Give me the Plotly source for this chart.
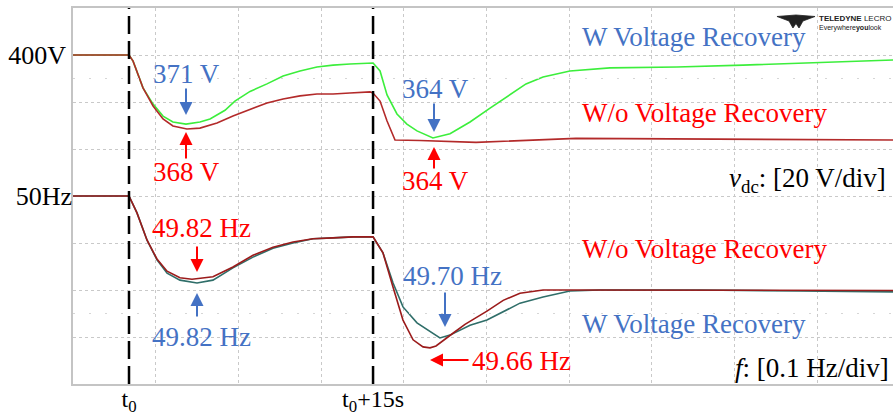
import plotly.graph_objects as go

# ---------------- data ----------------
# DC-link voltage, with voltage recovery (green)
t_vdc_w = [-3.44, 0.0, 0.25, 0.86, 1.48, 2.09, 2.70, 3.50, 4.36, 4.98, 5.90, 6.51, 7.44, 8.48,
           9.47, 10.51, 11.55, 12.54, 13.58, 14.63, 15.0, 15.43, 15.86, 16.47, 17.08, 17.70,
           18.68, 19.73, 20.96, 22.19, 23.46, 24.40, 25.45, 27.10, 29.56, 33.68, 37.74,
           41.86, 46.96]
vdc_w = [400.0, 400.0, 397.4, 386.0, 379.1, 374.0, 371.5, 370.6, 371.5, 372.8, 376.5, 380.4,
         384.5, 387.7, 391.1, 393.2, 394.9, 395.7, 396.2, 396.6, 396.6, 393.2, 383.0, 374.9,
         370.6, 367.7, 364.7, 366.5, 371.5, 377.4, 383.4, 387.7, 390.6, 393.2, 394.5, 394.9,
         395.7, 396.6, 397.9]

# DC-link voltage, without voltage recovery (dark red)
t_vdc_wo = [-3.44, 0.0, 0.25, 0.86, 1.48, 2.09, 2.70, 3.56, 4.36, 5.41, 6.39, 7.44, 8.48,
            9.47, 10.51, 11.55, 12.54, 13.58, 14.82, 15.0, 15.43, 15.86, 16.35, 17.88,
            21.33, 27.47, 35.10, 46.96]
vdc_wo = [400.0, 400.0, 397.4, 386.0, 378.3, 372.8, 369.8, 368.5, 368.9, 371.1, 374.0, 376.8,
          379.6, 381.3, 382.6, 383.4, 383.4, 383.8, 384.3, 383.8, 380.4, 371.9, 363.8, 363.6,
          362.8, 364.5, 364.2, 363.8]

# Frequency, with voltage recovery (teal)
t_f_w = [-3.44, 0.0, 0.49, 1.11, 1.72, 2.34, 3.13, 4.18, 5.16, 6.39, 7.62, 8.85, 10.08, 11.31,
         12.54, 13.77, 15.0, 15.61, 16.23, 16.84, 17.70, 18.68, 19.11, 19.73, 20.96, 22.0,
         22.99, 24.03, 25.45, 27.10, 28.95, 35.10, 41.24, 46.96]
f_w = [50.0, 50.0, 49.964, 49.906, 49.864, 49.836, 49.821, 49.815, 49.821, 49.847, 49.870,
       49.889, 49.900, 49.909, 49.911, 49.913, 49.913, 49.879, 49.815, 49.764, 49.730, 49.708,
       49.698, 49.704, 49.725, 49.736, 49.753, 49.772, 49.785, 49.798, 49.800, 49.800, 49.798,
       49.796]

# Frequency, without voltage recovery (dark red)
t_f_wo = [-3.44, 0.0, 0.49, 1.11, 1.72, 2.34, 3.13, 3.87, 5.16, 6.39, 7.62, 8.85, 10.08, 11.31,
          12.54, 13.77, 15.0, 15.61, 16.23, 16.84, 17.46, 18.07, 18.50, 18.87, 19.91, 20.65,
          22.0, 23.0, 24.03, 25.45, 27.10, 35.10, 41.24, 46.96]
f_wo = [50.0, 50.0, 49.964, 49.906, 49.866, 49.840, 49.826, 49.823, 49.828, 49.849, 49.874,
        49.891, 49.902, 49.909, 49.911, 49.913, 49.913, 49.879, 49.806, 49.736, 49.694, 49.679,
        49.677, 49.681, 49.708, 49.727, 49.755, 49.778, 49.793, 49.800, 49.800, 49.800, 49.799,
        49.799]

event_times = [0.0, 15.0]
event_labels = ["t<sub>0</sub>", "t<sub>0</sub>+15s"]

# ---------------- styling ----------------
SERIF = "Liberation Serif, Times New Roman, serif"
BLUE = "#4472C4"
RED = "#FF0000"
GRID = "#c9c9c9"
W, H = 893, 417
L, R, T, B = 73, 893, 8, 384   # plot area in pixels


def P(x, y):
    """pixel -> paper coordinates"""
    return (x - L) / (R - L), (B - y) / (B - T)


fig = go.Figure()
fig.add_trace(go.Scatter(x=t_f_w, y=f_w, yaxis="y2", mode="lines",
                         line=dict(color="#2f6e69", width=1.6), showlegend=False))
fig.add_trace(go.Scatter(x=t_f_wo, y=f_wo, yaxis="y2", mode="lines",
                         line=dict(color="#9b1b1b", width=1.6), showlegend=False))
fig.add_trace(go.Scatter(x=t_vdc_w, y=vdc_w, mode="lines",
                         line=dict(color="#3cee3c", width=1.6), showlegend=False))
fig.add_trace(go.Scatter(x=t_vdc_wo, y=vdc_wo, mode="lines",
                         line=dict(color="#b32a2a", width=1.6), showlegend=False))

x0 = (L - 129) / 16.27
x1 = (R - 129) / 16.27
div_t = 82.7 / 16.27

fig.update_layout(
    width=W, height=H, autosize=False,
    margin=dict(l=L, r=W - R, t=T, b=H - B, autoexpand=False),
    paper_bgcolor="white", plot_bgcolor="white",
    xaxis=dict(range=[x0, x1], tickmode="array", tickvals=event_times, ticktext=event_labels,
               showgrid=False, zeroline=False, ticks="", automargin=False,
               ticklabelstandoff=-8,
               tickfont=dict(family=SERIF, size=24, color="black"),
               showline=True, linecolor="#c4c4c4", linewidth=1.5, mirror=True,
               minor=dict(tick0=x0, dtick=div_t, showgrid=True, gridcolor=GRID,
                          griddash="dot", gridwidth=1, ticks="")),
    yaxis=dict(range=[260, 420], tickmode="array", tickvals=[400], ticktext=["400V"],
               showgrid=False, zeroline=False, ticks="", automargin=False,
               tickfont=dict(family=SERIF, size=26, color="black"),
               showline=True, linecolor="#c4c4c4", linewidth=1.5,
               minor=dict(tick0=260, dtick=20, showgrid=True, gridcolor=GRID,
                          griddash="dot", gridwidth=1, ticks="")),
    yaxis2=dict(range=[49.6, 50.4], overlaying="y", side="left", tickmode="array",
                tickvals=[50], ticktext=["50Hz"], showgrid=False, zeroline=False, ticks="",
                automargin=False,
                tickfont=dict(family=SERIF, size=26, color="black")),
)

# event markers (dashed vertical lines)
for te in event_times:
    fig.add_shape(type="line", xref="x", yref="paper", x0=te, x1=te, y0=0, y1=1,
                  line=dict(color="black", width=2.5, dash="18px,7px"))

# faint centre dotted lines
fig.add_shape(type="line", xref="paper", yref="y", x0=0, x1=1, y0=390, y1=390,
              line=dict(color="#d6d6d6", width=1, dash="2px,14px"))
fig.add_shape(type="line", xref="paper", yref="y2", x0=0, x1=1, y0=49.75, y1=49.75,
              line=dict(color="#d6d6d6", width=1, dash="2px,14px"))

# text labels (pixel centres)
texts = [
    ("371 V", 186, 74, BLUE, "center"),
    ("368 V", 186, 172, RED, "center"),
    ("364 V", 435, 89, BLUE, "center"),
    ("364 V", 435, 181, RED, "center"),
    ("W Voltage Recovery", 694, 37, BLUE, "center"),
    ("W/o Voltage Recovery", 704, 113, RED, "center"),
    ("49.82 Hz", 201, 228, RED, "center"),
    ("49.82 Hz", 201, 337, BLUE, "center"),
    ("49.70 Hz", 452, 276, BLUE, "center"),
    ("49.66 Hz", 521, 361, RED, "center"),
    ("W/o Voltage Recovery", 704, 249, RED, "center"),
    ("W Voltage Recovery", 694, 324, BLUE, "center"),
]
for txt, px, py, col, anc in texts:
    xp, yp = P(px, py)
    fig.add_annotation(text=txt, x=xp, y=yp, xref="paper", yref="paper", showarrow=False,
                       xanchor=anc, yanchor="middle",
                       font=dict(family=SERIF, size=27, color=col))

for txt, px, py in [("<i>v</i><sub>dc</sub>: [20 V/div]", 888, 180),
                    ("<i>f</i>: [0.1 Hz/div]", 891, 368)]:
    xp, yp = P(px, py)
    fig.add_annotation(text=txt, x=xp, y=yp, xref="paper", yref="paper", showarrow=False,
                       xanchor="right", yanchor="middle",
                       font=dict(family=SERIF, size=27, color="black"))

# arrows: (tip_x, tip_y, tail_x, tail_y, colour)
arrows = [
    (186, 115, 186, 87, BLUE),
    (186, 132, 186, 160, RED),
    (434, 132, 434, 102, BLUE),
    (434, 147, 434, 170, RED),
    (197, 272, 197, 245, RED),
    (197, 293, 197, 318, BLUE),
    (445, 327, 445, 291, BLUE),
    (430, 360, 470, 360, RED),
]
for tx, ty, sx, sy, col in arrows:
    xp, yp = P(tx, ty)
    fig.add_annotation(text="", x=xp, y=yp, xref="paper", yref="paper",
                       ax=sx - tx, ay=sy - ty, showarrow=True, arrowhead=2,
                       arrowsize=1.3, arrowwidth=2, arrowcolor=col)

# oscilloscope logo
lx = [777, 796, 815, 803, 799, 796, 793, 789]
ly = [16.5, 15, 16.5, 21, 28, 23.5, 28, 21]
path = "M " + " L ".join(f"{P(a, b)[0]:.4f},{P(a, b)[1]:.4f}" for a, b in zip(lx, ly)) + " Z"
fig.add_shape(type="path", xref="paper", yref="paper", path=path,
              fillcolor="#222222", line=dict(color="#222222", width=0.8))
xp, yp = P(818, 18.5)
fig.add_annotation(text="<b>TELEDYNE</b> LECRO", x=xp, y=yp, xref="paper", yref="paper",
                   showarrow=False, xanchor="left", yanchor="middle", borderpad=0,
                   font=dict(family="Liberation Sans, Arial", size=8, color="#222222"))
xp, yp = P(818, 27.5)
fig.add_annotation(text="Everywhere<b>you</b>look", x=xp, y=yp, xref="paper", yref="paper",
                   showarrow=False, xanchor="left", yanchor="middle", borderpad=0,
                   font=dict(family="Liberation Sans, Arial", size=7, color="#222222"))

fig.write_html("out.html", config={"displayModeBar": False},
               post_script="document.body.style.margin='0';document.body.style.overflow='hidden';")
